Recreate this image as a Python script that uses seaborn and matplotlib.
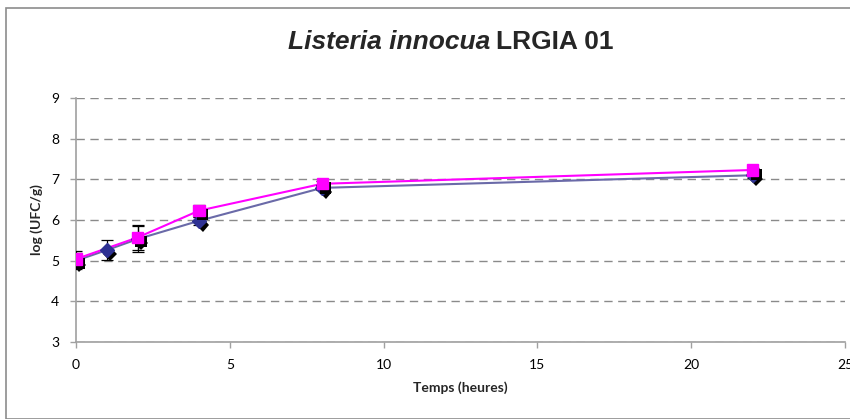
import matplotlib
matplotlib.use('Agg')
import matplotlib.pyplot as plt
import matplotlib.patheffects as pe
from matplotlib.patches import Rectangle
import pandas as pd
import seaborn as sns

# data
t_blue = [0, 1, 2, 4, 8, 22]
y_blue = [5.00, 5.26, 5.53, 5.98, 6.79, 7.10]
err_blue = [0.20, 0.25, 0.32, 0.10, 0.06, 0.06]

t_pink = [0, 2, 4, 8, 22]
y_pink = [5.04, 5.57, 6.23, 6.89, 7.23]
err_pink = [0.20, 0.30, 0.15, 0.06, 0.06]

x_ticks = [0, 5, 10, 15, 20, 25]
y_ticks = [3, 4, 5, 6, 7, 8, 9]

sns.set_style('white')
plt.rcParams['font.family'] = ['Lato', 'DejaVu Sans']

df = pd.concat([
    pd.DataFrame({'t': t_blue, 'y': y_blue, 'serie': 'A'}),
    pd.DataFrame({'t': t_pink, 'y': y_pink, 'serie': 'B'}),
])
line_cols = {'A': '#6a6aa8', 'B': '#ff00ff'}

fig = plt.figure(figsize=(8.5, 4.19), dpi=100)
fig.patches.append(Rectangle((6 / 850, 0), 1, 1 - 8 / 419, transform=fig.transFigure,
                             fill=False, edgecolor='#8c8c8c', lw=1.2))
ax = fig.add_axes([76 / 850, 1 - 342 / 419, 769 / 850, 244 / 419])

ax.yaxis.grid(True, linestyle=(0, (6, 4)), color='#8a8a8a', lw=1)
ax.set_axisbelow(True)

sns.lineplot(data=df, x='t', y='y', hue='serie', palette=line_cols, lw=1.5,
             legend=False, ax=ax, zorder=2, estimator=None, sort=True)

ax.errorbar(t_blue, y_blue, yerr=err_blue, fmt='none', ecolor='black', elinewidth=0.9,
            capsize=4, capthick=0.9, zorder=3)
ax.errorbar(t_pink, y_pink, yerr=err_pink, fmt='none', ecolor='black', elinewidth=0.9,
            capsize=4, capthick=0.9, zorder=3)

shadow = [pe.SimplePatchShadow(offset=(2.5, -3), shadow_rgbFace='black', alpha=1.0), pe.Normal()]
ax.plot(t_blue, y_blue, ls='none', marker='D', ms=7, color='#2e3192', mec='#2e3192',
        path_effects=shadow, zorder=4)
ax.plot(t_pink, y_pink, ls='none', marker='s', ms=8, color='#ff00ff', mec='#ff00ff',
        path_effects=shadow, zorder=5)

ax.set_xlim(0, 25)
ax.set_ylim(3, 9)
ax.set_xticks(x_ticks)
ax.set_yticks(y_ticks)
for s in ['top', 'right']:
    ax.spines[s].set_visible(False)
for s in ['left', 'bottom']:
    ax.spines[s].set_color('#a0a0a0')
    ax.spines[s].set_linewidth(1.2)
ax.tick_params(axis='both', which='both', direction='out', length=4, width=1,
               color='#a0a0a0', labelsize=10, pad=8, labelcolor='black', bottom=True, left=True)

ax.set_xlabel('Temps (heures)', fontsize=10, fontweight='bold', labelpad=8)
ax.set_ylabel('log (UFC/g)', fontsize=10, fontweight='bold', labelpad=6)

title_font = ['Liberation Sans Narrow', 'Liberation Sans', 'DejaVu Sans']
fig.text(490 / 850, 1 - 42 / 419, 'Listeria innocua', ha='right', va='center', fontsize=19,
         fontweight='bold', fontstyle='italic', family=title_font)
fig.text(496 / 850, 1 - 42 / 419, 'LRGIA 01', ha='left', va='center', fontsize=19,
         fontweight='bold', family=title_font)

fig.savefig('out.png', dpi=100)
